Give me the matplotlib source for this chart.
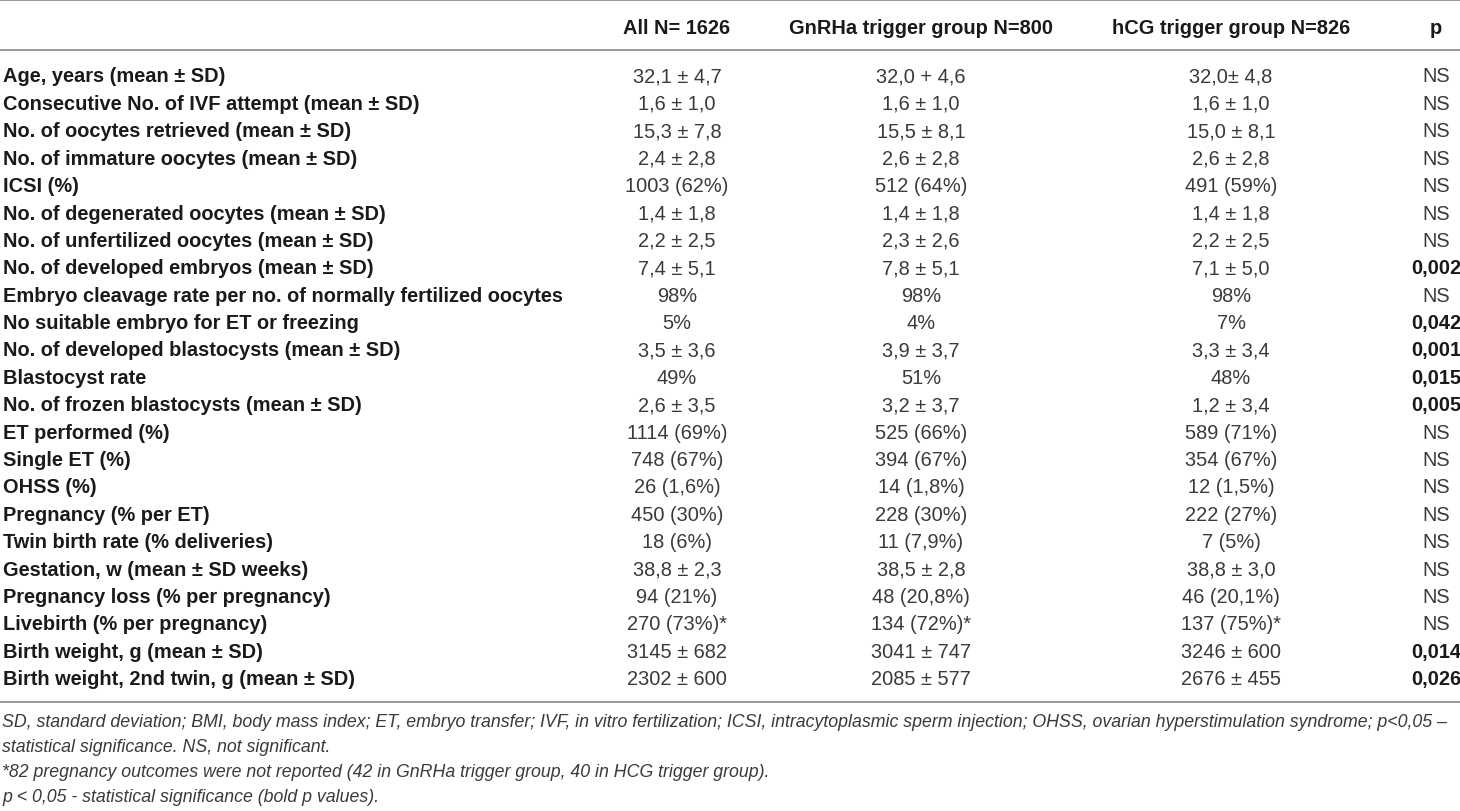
import matplotlib

matplotlib.use("Agg")
import matplotlib.pyplot as plt

plt.rcParams["font.family"] = ["Liberation Sans", "DejaVu Sans"]

# table content
col_headers = ["All N= 1626", "GnRHa trigger group N=800", "hCG trigger group N=826", "p"]

row_labels = [
    "Age, years (mean ± SD)",
    "Consecutive No. of IVF attempt (mean ± SD)",
    "No. of oocytes retrieved (mean ± SD)",
    "No. of immature oocytes (mean ± SD)",
    "ICSI (%)",
    "No. of degenerated oocytes (mean ± SD)",
    "No. of unfertilized oocytes (mean ± SD)",
    "No. of developed embryos (mean ± SD)",
    "Embryo cleavage rate per no. of normally fertilized oocytes",
    "No suitable embryo for ET or freezing",
    "No. of developed blastocysts (mean ± SD)",
    "Blastocyst rate",
    "No. of frozen blastocysts (mean ± SD)",
    "ET performed (%)",
    "Single ET (%)",
    "OHSS (%)",
    "Pregnancy (% per ET)",
    "Twin birth rate (% deliveries)",
    "Gestation, w (mean ± SD weeks)",
    "Pregnancy loss (% per pregnancy)",
    "Livebirth (% per pregnancy)",
    "Birth weight, g (mean ± SD)",
    "Birth weight, 2nd twin, g (mean ± SD)",
]

all_vals = [
    "32,1 ± 4,7", "1,6 ± 1,0", "15,3 ± 7,8", "2,4 ± 2,8", "1003 (62%)",
    "1,4 ± 1,8", "2,2 ± 2,5", "7,4 ± 5,1", "98%", "5%", "3,5 ± 3,6", "49%",
    "2,6 ± 3,5", "1114 (69%)", "748 (67%)", "26 (1,6%)", "450 (30%)",
    "18 (6%)", "38,8 ± 2,3", "94 (21%)", "270 (73%)*", "3145 ± 682",
    "2302 ± 600",
]

gnrha_vals = [
    "32,0 + 4,6", "1,6 ± 1,0", "15,5 ± 8,1", "2,6 ± 2,8", "512 (64%)",
    "1,4 ± 1,8", "2,3 ± 2,6", "7,8 ± 5,1", "98%", "4%", "3,9 ± 3,7", "51%",
    "3,2 ± 3,7", "525 (66%)", "394 (67%)", "14 (1,8%)", "228 (30%)",
    "11 (7,9%)", "38,5 ± 2,8", "48 (20,8%)", "134 (72%)*", "3041 ± 747",
    "2085 ± 577",
]

hcg_vals = [
    "32,0± 4,8", "1,6 ± 1,0", "15,0 ± 8,1", "2,6 ± 2,8", "491 (59%)",
    "1,4 ± 1,8", "2,2 ± 2,5", "7,1 ± 5,0", "98%", "7%", "3,3 ± 3,4", "48%",
    "1,2 ± 3,4", "589 (71%)", "354 (67%)", "12 (1,5%)", "222 (27%)",
    "7 (5%)", "38,8 ± 3,0", "46 (20,1%)", "137 (75%)*", "3246 ± 600",
    "2676 ± 455",
]

p_vals = [
    "NS", "NS", "NS", "NS", "NS", "NS", "NS", "0,002", "NS", "0,042",
    "0,001", "0,015", "0,005", "NS", "NS", "NS", "NS", "NS", "NS", "NS",
    "NS", "0,014", "0,026",
]

footnotes = [
    "SD, standard deviation; BMI, body mass index; ET, embryo transfer; IVF, in vitro fertilization; "
    "ICSI, intracytoplasmic sperm injection; OHSS, ovarian hyperstimulation syndrome; p<0,05 –",
    "statistical significance. NS, not significant.",
    "*82 pregnancy outcomes were not reported (42 in GnRHa trigger group, 40 in HCG trigger group).",
    "p < 0,05 - statistical significance (bold p values).",
]

W, H = 1460, 812
fig = plt.figure(figsize=(W / 100, H / 100), dpi=100)
ax = fig.add_axes([0, 0, 1, 1])
ax.set_xlim(0, W)
ax.set_ylim(H, 0)
ax.axis("off")

fs = 14.4
label_color = "#1a1a1a"
value_color = "#3a3a3a"
line_color = "#999999"

col_x = [677, 921, 1231, 1436]
row_y0, row_step = 77, 27.4

# horizontal rules
for y in (1, 51, 703):
    ax.axhline(y, color=line_color, lw=1.4)

for x, h in zip(col_x, col_headers):
    ax.text(x, 28, h, ha="center", va="center", fontsize=fs,
            fontweight="bold", color=label_color)

for i, lab in enumerate(row_labels):
    y = row_y0 + i * row_step
    ax.text(3, y, lab, ha="left", va="center", fontsize=fs,
            fontweight="bold", color=label_color)
    for x, col in zip(col_x[:3], (all_vals, gnrha_vals, hcg_vals)):
        ax.text(x, y, col[i], ha="center", va="center", fontsize=fs,
                color=value_color)
    sig = p_vals[i] != "NS"
    ax.text(col_x[3], y, p_vals[i], ha="center", va="center", fontsize=fs,
            fontweight="bold" if sig else "normal",
            color=label_color if sig else value_color)

for j, note in enumerate(footnotes):
    ax.text(2, 723 + j * 24.7, note, ha="left", va="center", fontsize=12.8,
            style="italic", color=value_color)

fig.savefig("out.png", dpi=100)
